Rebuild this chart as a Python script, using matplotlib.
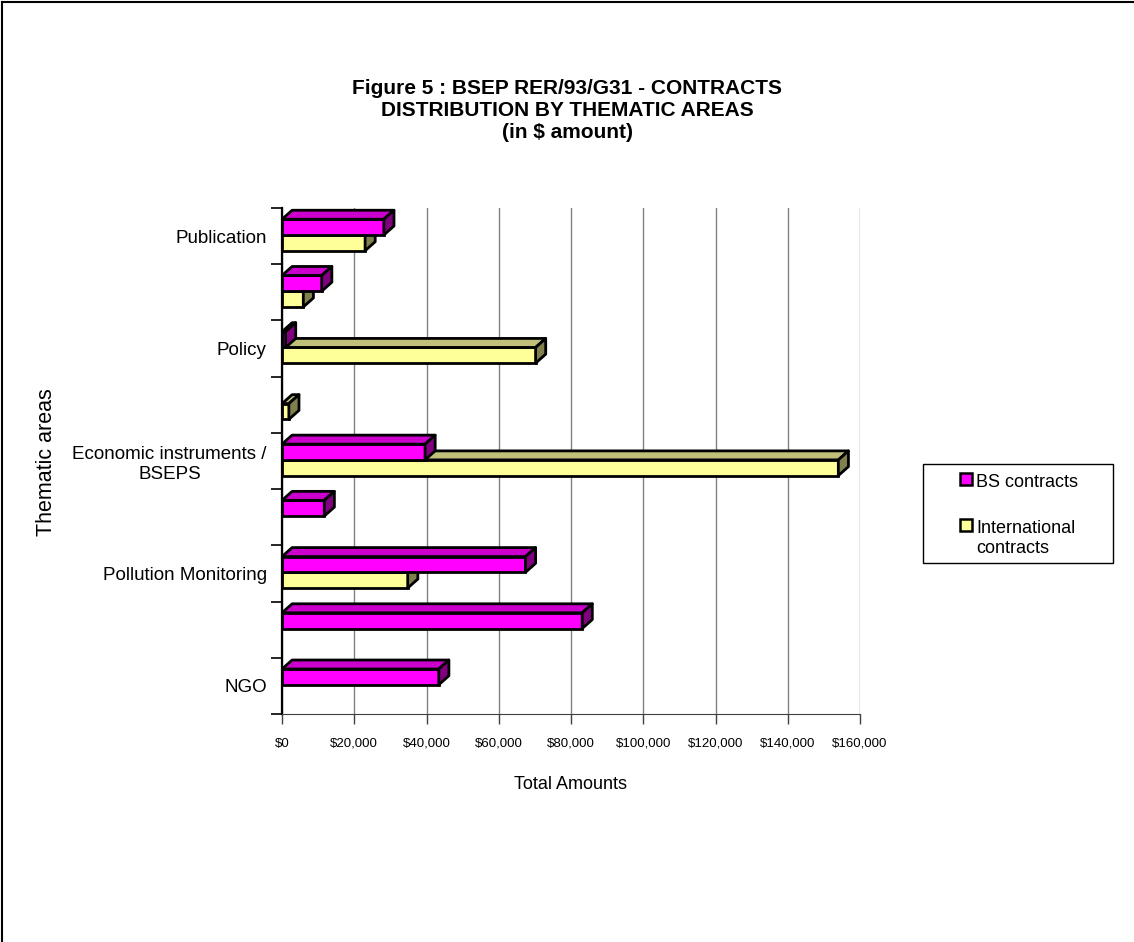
"""
Figure 5 - BSEP contracts by thematic area, Excel-style 3D horizontal bars.
"""
import matplotlib
matplotlib.use("Agg")
import matplotlib.pyplot as plt
from matplotlib.patches import Polygon, Rectangle
from matplotlib.lines import Line2D
from matplotlib.ticker import FuncFormatter
import numpy as np

plt.rcParams["font.family"] = ["Liberation Sans", "DejaVu Sans"]

# ── Data (bottom to top) ───────────────────────────────────────────────────
categories = [
    "NGO", "", "Pollution Monitoring", "", "Economic instruments /\nBSEPS",
    "", "Policy", "", "Publication",
]
bs_contracts = [43400, 83100, 67400, 11700, 39600, 0, 1000, 11000, 28200]
intl_contracts = [0, 0, 34800, 0, 154000, 1900, 70200, 5900, 23000]
x_ticks = [0, 20000, 40000, 60000, 80000, 100000, 120000, 140000, 160000]
series_names = ["BS contracts", "International\ncontracts"]

# ── Style ──────────────────────────────────────────────────────────────────
BS_FACE, BS_TOP, BS_SIDE = "#FF00FF", "#CC00CC", "#800080"
IN_FACE, IN_TOP, IN_SIDE = "#FFFF99", "#C0C07A", "#80804D"
EDGE_LW = 2.0
BAR_H = 0.28
DEPTH_X = 2800      # 3D depth, data units
DEPTH_Y = 0.16

W, H = 1134, 942
fig = plt.figure(figsize=(W / 100, H / 100), dpi=100)
fig.patch.set_facecolor("white")
ax = fig.add_axes([282 / W, (H - 714) / H, 578 / W, 506 / H])

y = np.arange(len(categories))


def bars_3d(values, y0, face, top, side, z):
    cont = ax.barh(y0, values, height=BAR_H, align="edge", color=face,
                   edgecolor="black", linewidth=EDGE_LW, zorder=z)
    for rect, v in zip(cont.patches, values):
        if v <= 0:
            rect.set_visible(False)
            continue
        x0, yb = rect.get_x(), rect.get_y()
        x1, yt = x0 + rect.get_width(), yb + rect.get_height()
        ax.add_patch(Polygon(
            [(x0, yt), (x1, yt), (x1 + DEPTH_X, yt + DEPTH_Y), (x0 + DEPTH_X, yt + DEPTH_Y)],
            closed=True, facecolor=top, edgecolor="black", linewidth=EDGE_LW,
            joinstyle="round", zorder=z))
        ax.add_patch(Polygon(
            [(x1, yb), (x1, yt), (x1 + DEPTH_X, yt + DEPTH_Y), (x1 + DEPTH_X, yb + DEPTH_Y)],
            closed=True, facecolor=side, edgecolor="black", linewidth=EDGE_LW,
            joinstyle="round", zorder=z))


bars_3d(intl_contracts, y - BAR_H + 0.02, IN_FACE, IN_TOP, IN_SIDE, 3)
bars_3d(bs_contracts, y + 0.02, BS_FACE, BS_TOP, BS_SIDE, 4)

# ── Axes ───────────────────────────────────────────────────────────────────
ax.set_xlim(0, 160000)
ax.set_ylim(-0.5, len(categories) - 0.5)
ax.set_xticks(x_ticks)
ax.xaxis.set_major_formatter(FuncFormatter(lambda v, p: f"${v:,.0f}"))
ax.tick_params(axis="x", direction="out", length=7, width=1, color="#404040",
               labelsize=9.5, pad=10)
ax.xaxis.grid(True, color="#808080", linewidth=1)
ax.set_axisbelow(True)

ax.set_yticks(np.arange(-0.5, len(categories), 1))
ax.set_yticklabels([])
ax.set_yticks(y, minor=True)
ax.set_yticklabels(categories, minor=True)
ax.tick_params(axis="y", which="major", direction="out", length=8, width=1.2)
ax.tick_params(axis="y", which="minor", length=0, labelsize=13.5, pad=11)
for lab in ax.get_yticklabels(minor=True):
    lab.set_multialignment("center")

for s in ("top", "right"):
    ax.spines[s].set_visible(False)
ax.spines["left"].set_linewidth(1.6)
ax.spines["bottom"].set_color("#404040")

ax.set_xlabel("Total Amounts", fontsize=13, labelpad=19)
fig.text(47 / W, 1 - 462 / H, "Thematic areas", rotation=90, fontsize=15.5,
         ha="center", va="center")

# ── Title ──────────────────────────────────────────────────────────────────
fig.text(0.5, 1 - 110 / H,
         "Figure 5 : BSEP RER/93/G31 - CONTRACTS\nDISTRIBUTION BY THEMATIC AREAS\n(in $ amount)",
         fontsize=15, fontweight="bold", ha="center", va="center", linespacing=1.2)

# ── Legend (drawn by hand, Excel layout) ──────────────────────────────────
fig.add_artist(Rectangle((923 / W, 1 - 563 / H), 190 / W, 99 / H,
                         transform=fig.transFigure, facecolor="white",
                         edgecolor="black", linewidth=1))
for name, face, cy in zip(series_names, [BS_FACE, IN_FACE], [479, 525]):
    fig.add_artist(Rectangle((960 / W, 1 - (cy + 6) / H), 12 / W, 12 / H,
                             transform=fig.transFigure, facecolor=face,
                             edgecolor="black", linewidth=1.8))
    fig.text(976 / W, 1 - (cy - 5) / H, name, fontsize=13, ha="left", va="top",
             linespacing=1.2)

# ── Outer frame (top and left edges visible) ───────────────────────────────
fig.add_artist(Line2D([2 / W, 2 / W], [0, 1 - 2 / H], transform=fig.transFigure,
                      color="black", linewidth=1.5))
fig.add_artist(Line2D([2 / W, 1], [1 - 2 / H, 1 - 2 / H], transform=fig.transFigure,
                      color="black", linewidth=1.5))

fig.savefig("out.png", dpi=100, facecolor="white")
